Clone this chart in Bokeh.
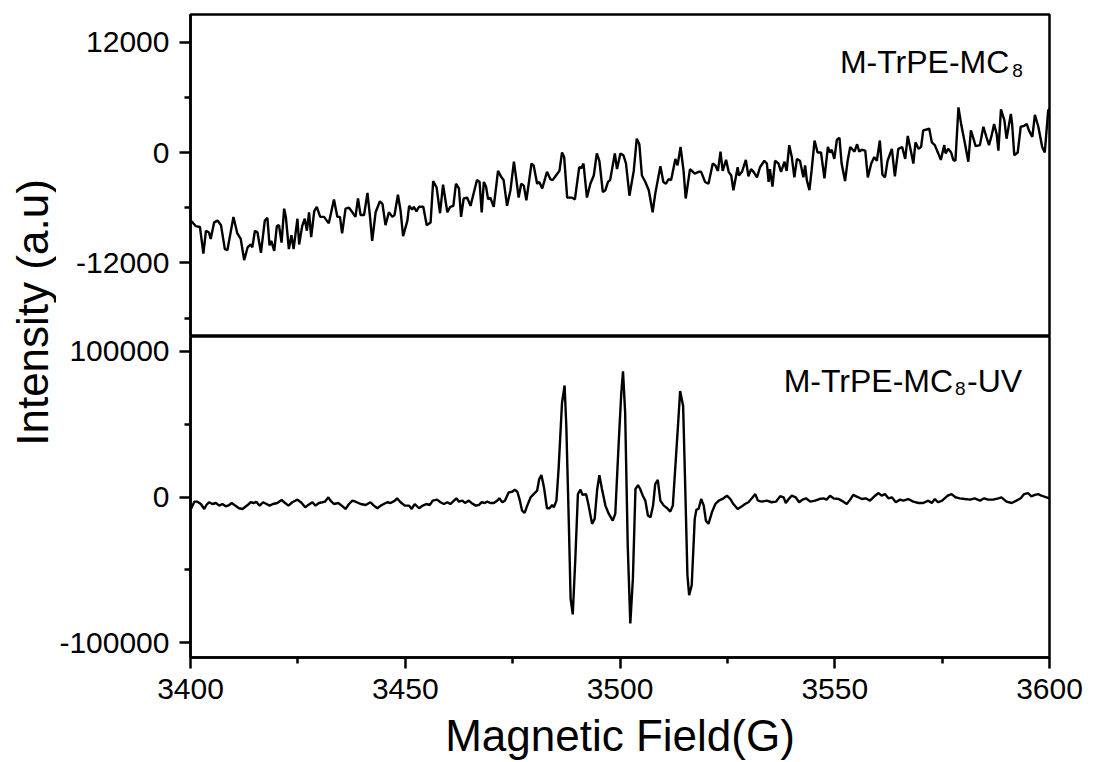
from math import pi
from bokeh.plotting import figure
from bokeh.layouts import row, column
from bokeh.models import FixedTicker, Label, CustomJSTickFormatter
from bokeh.embed import file_html
from bokeh.resources import INLINE

FONT = "Liberation Sans"

# ---------------- data ----------------
field_top = [
    3400.0, 3400.5, 3401.2, 3402.2, 3403.0, 3403.6, 3404.3, 3404.7, 3405.5, 3406.3,
    3407.1, 3408.0, 3408.6, 3410.0, 3410.9, 3411.7, 3412.5, 3413.3, 3414.0, 3414.4,
    3415.0, 3415.6, 3416.4, 3417.3, 3417.9, 3418.4, 3418.8, 3419.5, 3420.1, 3420.6,
    3421.2, 3421.8, 3422.2, 3422.9, 3423.5, 3424.0, 3424.9, 3425.3, 3426.0, 3426.6,
    3427.1, 3427.6, 3428.1, 3428.8, 3429.4, 3430.2, 3431.1, 3432.2, 3433.4, 3434.2,
    3434.8, 3435.3, 3436.1, 3436.9, 3437.7, 3438.4, 3439.0, 3439.6, 3440.4, 3441.2,
    3441.8, 3442.3, 3443.1, 3444.1, 3444.7, 3445.4, 3446.2, 3447.0, 3447.5, 3448.3,
    3448.9, 3449.5, 3450.5, 3450.9, 3451.6, 3452.0, 3452.6, 3453.2, 3454.2, 3455.0,
    3455.9, 3456.5, 3457.3, 3458.1, 3458.8, 3459.8, 3460.5, 3461.2, 3461.8, 3462.5,
    3463.0, 3463.6, 3464.4, 3465.2, 3466.0, 3466.7, 3467.3, 3467.8, 3468.3, 3468.8,
    3469.3, 3469.8, 3470.6, 3471.6, 3472.4, 3472.9, 3473.7, 3474.5, 3475.3, 3475.8,
    3476.4, 3477.0, 3477.6, 3478.2, 3479.4, 3479.9, 3480.7, 3481.2, 3481.9, 3483.0,
    3483.8, 3484.3, 3485.1, 3485.9, 3486.5, 3487.0, 3487.7, 3488.2, 3488.8, 3489.5,
    3490.5, 3491.0, 3491.5, 3492.3, 3493.1, 3493.9, 3494.6, 3495.2, 3496.0, 3496.6,
    3497.2, 3497.7, 3498.8, 3499.3, 3500.1, 3500.8, 3501.4, 3502.2, 3503.2, 3503.9,
    3504.5, 3505.1, 3505.9, 3506.7, 3507.6, 3508.2, 3509.4, 3510.1, 3510.7, 3511.3,
    3511.9, 3512.9, 3513.4, 3514.1, 3514.8, 3515.3, 3516.3, 3517.4, 3518.3, 3518.9,
    3519.8, 3520.6, 3521.6, 3522.2, 3522.8, 3523.4, 3523.9, 3524.7, 3525.3, 3525.9,
    3526.4, 3527.4, 3527.7, 3528.4, 3529.3, 3529.9, 3530.5, 3531.1, 3531.9, 3532.6,
    3533.6, 3534.2, 3534.6, 3534.9, 3535.5, 3536.1, 3536.9, 3537.5, 3538.3, 3538.8,
    3539.4, 3540.0, 3540.6, 3541.2, 3541.9, 3542.7, 3543.1, 3543.5, 3544.1, 3544.6,
    3545.3, 3546.0, 3546.8, 3547.6, 3548.4, 3548.9, 3549.3, 3549.9, 3550.5, 3551.1,
    3551.6, 3552.4, 3553.0, 3553.6, 3554.6, 3555.2, 3555.7, 3556.3, 3557.1, 3557.7,
    3558.5, 3559.2, 3559.8, 3560.5, 3561.1, 3561.7, 3562.3, 3563.3, 3564.0, 3564.8,
    3565.7, 3566.4, 3567.0, 3567.8, 3568.3, 3568.8, 3569.5, 3570.1, 3570.6, 3571.4,
    3572.0, 3572.6, 3573.3, 3574.1, 3574.7, 3575.5, 3575.8, 3576.4, 3577.1, 3577.6,
    3578.1, 3578.8, 3579.5, 3580.3, 3581.1, 3581.7, 3582.3, 3582.8, 3583.8, 3584.6,
    3585.3, 3585.9, 3586.5, 3587.1, 3587.7, 3588.1, 3588.7, 3589.5, 3590.0, 3591.0,
    3591.3, 3591.8, 3592.6, 3593.3, 3594.1, 3594.7, 3595.2, 3596.0, 3596.6, 3597.4,
    3598.3, 3598.9, 3599.7, 3600.0,
]
intensity_top = [
    -7400, -7600, -8000, -8100, -11000, -8500, -8700, -9400, -7600, -7400,
    -7900, -10500, -10600, -7000, -8800, -9400, -11700, -10300, -10000, -10300,
    -8500, -8700, -10900, -7400, -7100, -10100, -9600, -10700, -8000, -7900,
    -9800, -6100, -7000, -10500, -9000, -10500, -7200, -10000, -8000, -7200,
    -8500, -6500, -9200, -6400, -5900, -7000, -7000, -7700, -5100, -7000,
    -7000, -8800, -6100, -6000, -6500, -7000, -5000, -6800, -6800, -4400,
    -7000, -9600, -6500, -5300, -5600, -7900, -6500, -7000, -6800, -4600,
    -6300, -9100, -7400, -5800, -6200, -5900, -6400, -5900, -5900, -7900,
    -7600, -3100, -3800, -6600, -3500, -6500, -5900, -5800, -3400, -3900,
    -7000, -5000, -4900, -5800, -4300, -3000, -3200, -6500, -3200, -3700,
    -5100, -4900, -5900, -2000, -2700, -3000, -5800, -4100, -1000, -2700,
    -4900, -3400, -3600, -5200, -1200, -1400, -3400, -3200, -3900, -2100,
    -2900, -3000, -2500, -2000, 0, -500, -4900, -4900, -4900, -5100,
    -1600, -1700, -1200, -4900, -3400, -2500, -100, -900, -4300, -4100,
    -3200, -3000, -100, -1800, -100, -300, -1200, -4700, -2000, 1500,
    900, -2500, -3200, -4100, -6500, -4500, -1500, -3200, -3400, -2900,
    -3000, -700, -1400, 600, -2000, -5000, -1800, -2300, -2100, -2100,
    -3200, -3400, -1200, -1400, -2000, 100, -2000, -800, -2100, -2500,
    -4100, -1600, -2500, -2100, -800, -2600, -1800, -2100, -2700, -1600,
    -900, -1200, -3200, -1800, -3700, -900, -1200, -2100, -1000, -2000,
    800, -500, -2700, -700, -900, -2700, -1400, -3000, -4100, -2000,
    1300, 0, 0, -2800, 600, 0, 300, -700, 1400, 1600,
    -1200, -3100, -900, 600, 100, 900, 100, 300, 200, -2700,
    -1200, -500, -900, 1300, -2400, -2700, -900, 400, -2600, 400,
    600, -700, 1800, 0, -1200, 1100, 400, 600, 2400, 2500,
    2600, 1100, 800, -100, -800, 800, -100, 400, 0, -800,
    -900, 4900, 2900, 1000, -1000, 2400, 1500, 700, 800, 2800,
    1700, 800, 1800, 3100, 2000, 200, 4700, 3500, 1500, 4200,
    3100, -300, 0, 2800, 2900, 3100, 2400, 1700, 4100, 2800,
    600, 0, 4600, 4700,
]

field_uv = [
    3400.1, 3400.9, 3401.6, 3402.4, 3403.2, 3403.7, 3404.3, 3405.1, 3405.9, 3406.7,
    3407.4, 3408.2, 3409.0, 3409.6, 3410.4, 3411.3, 3412.1, 3413.3, 3414.0, 3414.8,
    3415.3, 3416.1, 3416.9, 3417.7, 3418.4, 3419.2, 3420.2, 3421.2, 3421.8, 3422.8,
    3423.7, 3424.9, 3425.9, 3426.7, 3427.4, 3428.4, 3429.1, 3429.9, 3430.7, 3431.3,
    3432.1, 3432.6, 3433.4, 3434.4, 3435.2, 3436.1, 3436.9, 3437.7, 3438.4, 3439.6,
    3440.8, 3441.9, 3442.7, 3443.5, 3444.3, 3445.0, 3445.8, 3446.6, 3447.6, 3448.1,
    3448.9, 3449.9, 3450.9, 3451.5, 3452.2, 3453.2, 3454.1, 3454.9, 3455.7, 3456.4,
    3457.4, 3458.2, 3459.0, 3459.8, 3460.5, 3461.9, 3462.5, 3463.3, 3463.9, 3464.8,
    3465.4, 3466.4, 3467.1, 3467.8, 3468.5, 3469.1, 3469.8, 3470.6, 3471.4, 3471.9,
    3472.6, 3473.2, 3474.1, 3474.9, 3475.5, 3476.1, 3476.6, 3477.2, 3477.8, 3478.4,
    3479.2, 3479.9, 3480.7, 3481.2, 3481.7, 3482.3, 3483.0, 3483.6, 3484.2, 3484.6,
    3485.2, 3485.7, 3486.5, 3487.1, 3487.5, 3488.1, 3488.5, 3489.0, 3489.6, 3490.2,
    3490.8, 3491.3, 3492.1, 3492.7, 3493.5, 3494.1, 3494.7, 3495.2, 3495.8, 3496.6,
    3497.4, 3498.3, 3498.9, 3499.7, 3500.3, 3500.7, 3501.2, 3501.8, 3502.4, 3503.0,
    3503.6, 3504.2, 3504.7, 3505.3, 3505.9, 3506.5, 3507.1, 3507.7, 3508.2, 3508.8,
    3509.4, 3510.2, 3511.0, 3511.7, 3512.3, 3512.9, 3513.5, 3514.0, 3514.7, 3515.2,
    3515.7, 3516.1, 3516.7, 3517.4, 3517.8, 3518.3, 3518.9, 3519.5, 3520.0, 3520.6,
    3521.4, 3522.2, 3523.0, 3524.1, 3524.9, 3525.7, 3526.4, 3527.4, 3528.4, 3529.1,
    3529.9, 3530.7, 3531.5, 3532.1, 3533.0, 3534.2, 3535.3, 3536.3, 3537.3, 3538.1,
    3538.6, 3539.4, 3540.0, 3540.9, 3541.7, 3542.5, 3543.3, 3544.3, 3545.4, 3546.4,
    3547.4, 3548.1, 3548.9, 3549.7, 3550.9, 3552.0, 3552.8, 3553.6, 3554.3, 3555.5,
    3556.3, 3557.2, 3558.2, 3559.4, 3560.2, 3560.9, 3561.7, 3562.5, 3563.3, 3564.2,
    3565.2, 3566.0, 3567.1, 3568.3, 3569.5, 3570.6, 3571.8, 3572.6, 3573.3, 3574.1,
    3575.0, 3576.3, 3577.2, 3578.1, 3579.1, 3580.3, 3581.5, 3582.6, 3583.8, 3584.8,
    3585.7, 3586.9, 3588.1, 3588.8, 3590.0, 3591.2, 3592.3, 3593.3, 3594.1, 3595.0,
    3595.8, 3596.6, 3597.4, 3598.1, 3599.3, 3600.0,
]
intensity_uv = [
    -8200, -3200, -3200, -4800, -8200, -5500, -3600, -4800, -4100, -5900,
    -4800, -6400, -5500, -4100, -5900, -7700, -8200, -5500, -3600, -4100,
    -3200, -5900, -3600, -4800, -5900, -4800, -4100, -2000, -3600, -5900,
    -3600, -1800, -4100, -7100, -5500, -3600, -5900, -4100, -3600, -3200,
    -200, -2500, -4800, -4100, -5900, -8200, -4800, -2500, -3200, -4800,
    -5500, -3600, -5900, -7700, -5900, -4800, -3600, -4100, -2500, -900,
    -3600, -5900, -5900, -8200, -4800, -7700, -5900, -4800, -5500, -2500,
    -1800, -3600, -4800, -3600, -4800, -900, -3200, -2500, -4100, -2500,
    -4100, -5900, -5500, -3600, -4100, -3200, -4100, -4100, -2500, -900,
    -3600, -2500, 3200, 3600, 5000, 3600, -1400, -9300, -10900, -5900,
    -200, 2000, 4300, 12300, 15000, 6600, -7700, -7700, -5500, -7100,
    -2500, 19100, 64600, 76400, 48700, -19600, -69600, -80500, -42300, 2000,
    5000, 1400, 2000, -5900, -18400, -15000, 5500, 15000, 5500, -5900,
    -11600, -16200, -11600, 37300, 71400, 86200, 57800, -33200, -86700, -56000,
    5500, 8200, 5500, 900, -2500, -12700, -13900, -5900, 8900, 11800,
    -2500, -5900, -7700, -10000, -5900, 21400, 48700, 72600, 62300, 5500,
    -53700, -67300, -60500, -15000, -8600, -8200, -1400, -5900, -16200, -18400,
    -10500, -4800, -2500, -900, 900, -1400, -4800, -8200, -6400, -4800,
    -3600, -900, 2000, -2500, -3200, -2500, -3600, -3200, 500, -200,
    -4100, -900, 900, -200, -3600, -1800, -900, -3200, -2500, -1400,
    -900, -1800, 900, -900, -1400, -3200, -4800, -1800, 1400, -200,
    -1400, -900, -2500, 900, 2700, 900, 2000, -900, -200, -3600,
    -1800, -2500, -1400, -3200, -4100, -4100, -2500, -4100, -1400, -3600,
    -2500, 900, 2000, -200, -900, -1400, -1800, -900, -2500, -900,
    -1800, -1800, -900, -200, -3200, -4100, -2500, -900, 2000, 2700,
    500, 1400, 2000, 900, -200, -900,
]

x_ticks = [3400, 3450, 3500, 3550, 3600]
x_minor_ticks = [3425, 3475, 3525, 3575]
top_ticks = [-12000, 0, 12000]
top_minor_ticks = [-18000, -6000, 6000]
uv_ticks = [-100000, 0, 100000]
uv_minor_ticks = [-50000, 50000]

x_label = "Magnetic Field(G)"
y_label = "Intensity (a.u)"
top_name = "M-TrPE-MC"
uv_name_tail = "-UV"
subscript = "8"


def style_axis(ax):
    ax.axis_line_width = 2.5
    ax.axis_line_color = "black"
    ax.major_tick_line_width = 2.5
    ax.minor_tick_line_width = 2.5
    ax.major_tick_line_color = "black"
    ax.minor_tick_line_color = "black"
    ax.major_tick_out = 11
    ax.major_tick_in = 0
    ax.minor_tick_out = 6
    ax.minor_tick_in = 0
    ax.major_label_text_font = FONT
    ax.major_label_text_font_size = "30px"
    ax.major_label_text_color = "black"
    ax.major_label_standoff = 10
    ax.formatter = CustomJSTickFormatter(code="return tick.toFixed(0);")


def style_fig(p):
    p.outline_line_color = "black"
    p.outline_line_width = 2.5
    p.outline_line_alpha = 1
    p.grid.visible = False
    p.background_fill_color = "white"
    p.border_fill_color = "white"


# ---------------- top panel ----------------
top = figure(width=1040, height=336, x_range=(3400, 3600), y_range=(-20000, 15000),
             toolbar_location=None, output_backend="svg", x_axis_location=None,
             min_border_left=132, min_border_right=47, min_border_top=14,
             min_border_bottom=0)
style_fig(top)
top.line(field_top, intensity_top, line_color="black", line_width=2.4)
top.yaxis.ticker = FixedTicker(ticks=top_ticks, minor_ticks=top_minor_ticks)
for ax in top.yaxis:
    style_axis(ax)

top.add_layout(Label(x=3551.2, y=9800, text=top_name, text_font=FONT,
                     text_font_size="32px", text_align="left",
                     text_baseline="alphabetic", text_color="black"))
top.add_layout(Label(x=3591.3, y=8900, text=subscript, text_font=FONT,
                     text_font_size="19px", text_align="left",
                     text_baseline="alphabetic", text_color="black"))

# ---------------- bottom panel ----------------
bot = figure(width=1040, height=426, x_range=top.x_range, y_range=(-110000, 110000),
             toolbar_location=None, output_backend="svg",
             min_border_left=132, min_border_right=47, min_border_top=0,
             min_border_bottom=103)
style_fig(bot)
bot.line(field_uv, intensity_uv, line_color="black", line_width=2.4)
bot.yaxis.ticker = FixedTicker(ticks=uv_ticks, minor_ticks=uv_minor_ticks)
bot.xaxis.ticker = FixedTicker(ticks=x_ticks, minor_ticks=x_minor_ticks)
for ax in list(bot.yaxis) + list(bot.xaxis):
    style_axis(ax)
bot.xaxis.axis_label = x_label
bot.xaxis.axis_label_text_font = FONT
bot.xaxis.axis_label_text_font_size = "44px"
bot.xaxis.axis_label_text_font_style = "normal"
bot.xaxis.axis_label_text_color = "black"
bot.xaxis.axis_label_standoff = 9

bot.add_layout(Label(x=3538.1, y=79400, text=top_name, text_font=FONT,
                     text_font_size="32px", text_align="left",
                     text_baseline="alphabetic", text_color="black"))
bot.add_layout(Label(x=3578.0, y=74500, text=subscript, text_font=FONT,
                     text_font_size="19px", text_align="left",
                     text_baseline="alphabetic", text_color="black"))
bot.add_layout(Label(x=3580.8, y=79400, text=uv_name_tail, text_font=FONT,
                     text_font_size="32px", text_align="left",
                     text_baseline="alphabetic", text_color="black"))

# ---------------- shared y label ----------------
lab = figure(width=56, height=762, x_range=(0, 56), y_range=(0, 762),
             toolbar_location=None, output_backend="svg",
             x_axis_location=None, y_axis_location=None, min_border=0)
lab.outline_line_color = None
lab.grid.visible = False
lab.add_layout(Label(x=32, y=450, text=y_label, angle=pi / 2, text_font=FONT,
                     text_font_size="44px", text_align="center",
                     text_baseline="middle", text_color="black"))

layout = row(lab, column(top, bot))
open("out.html", "w").write(file_html(layout, INLINE))
